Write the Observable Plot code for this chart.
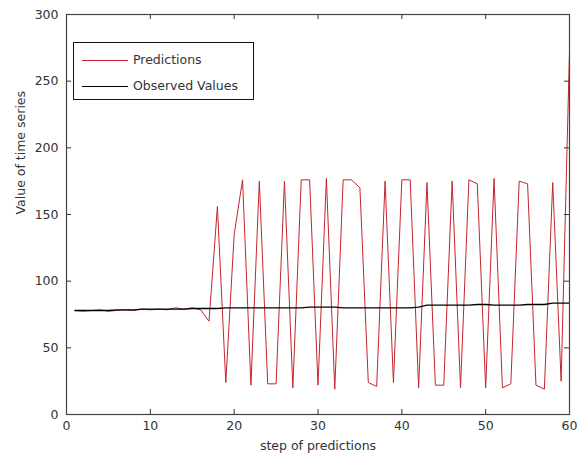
<!DOCTYPE html>
<html>
<head>
<meta charset="utf-8">
<script src="https://cdn.jsdelivr.net/npm/d3@7"></script>
<script src="https://cdn.jsdelivr.net/npm/@observablehq/plot@0.6"></script>
<style>
  html, body { margin: 0; padding: 0; background: #fff; }
  #wrap { position: relative; width: 579px; height: 460px; }
  #legend {
    position: absolute; left: 73px; top: 42px; width: 181px; height: 58px;
    border: 1px solid #111; background: #fff; box-sizing: border-box;
    font-family: "DejaVu Sans", sans-serif; font-size: 12.5px; color: #333;
  }
  .row { position: absolute; left: 0; height: 16px; }
  .sw { position: absolute; left: 8px; width: 46px; height: 0; }
  .lab { position: absolute; left: 59px; white-space: nowrap; line-height: 16px; }
</style>
</head>
<body>
<div id="wrap"></div>
<script>
const steps = [1,2,3,4,5,6,7,8,9,10,11,12,13,14,15,16,17,18,19,20,21,22,23,24,25,26,27,28,29,30,
               31,32,33,34,35,36,37,38,39,40,41,42,43,44,45,46,47,48,49,50,51,52,53,54,55,56,57,58,59,60];
const predictions = [78,77.5,78,78.5,77.5,78,78.5,78,79,78.5,79,78.5,80,79,80,78.5,70,156,24,135,
                     176,22,175,23,23,175,20,176,176,22,177,19,176,176,170,24,21,175,24,176,
                     176,20,174,22,22,175,20,176,173,20,177,20,23,175,173,22,19,174,25,272];
const observed = [78,78,78,78,78,78.5,78.5,78.5,79,79,79,79,79,79,79.5,79.5,79.5,79.5,80,80,
                  80,80,80,80,80,80,80,80,80.5,80.5,80.5,80.5,80,80,80,80,80,80,80,80,
                  80,80.5,82,82,82,82,82,82,82.5,82.5,82,82,82,82,82.5,82.5,82.5,83.5,83.5,83.5];
const xTicks = [0,10,20,30,40,50,60];
const yTicks = [0,50,100,150,200,250,300];
const seriesNames = ["Predictions", "Observed Values"];
const seriesColors = ["#c4242a", "#000000"];

const predData = steps.map((s, i) => ({step: s, value: predictions[i]}));
const obsData = steps.map((s, i) => ({step: s, value: observed[i]}));

const W = 579, H = 460, mL = 66, mR = 10, mT = 14, mB = 46;
const fw = W - mL - mR, fh = H - mT - mB, tk = 5;

const chart = Plot.plot({
  width: W, height: H,
  marginLeft: mL, marginRight: mR, marginTop: mT, marginBottom: mB,
  style: {fontFamily: "DejaVu Sans, sans-serif", fontSize: "12.5px", color: "#333", background: "#fff"},
  x: {domain: [0, 60], label: null},
  y: {domain: [0, 300], label: null},
  marks: [
    Plot.line(predData, {x: "step", y: "value", stroke: seriesColors[0], strokeWidth: 1}),
    Plot.line(obsData, {x: "step", y: "value", stroke: seriesColors[1], strokeWidth: 1.3}),
    Plot.ruleX(xTicks, {x: d => d, insetTop: fh - tk, stroke: "#333"}),
    Plot.ruleX(xTicks, {x: d => d, insetBottom: fh - tk, stroke: "#333"}),
    Plot.ruleY(yTicks, {y: d => d, insetRight: fw - tk, stroke: "#333"}),
    Plot.ruleY(yTicks, {y: d => d, insetLeft: fw - tk, stroke: "#333"}),
    Plot.frame({stroke: "#444", strokeWidth: 1.2}),
    Plot.axisX(xTicks, {tickSize: 0, tickPadding: 7, label: null, fill: "#333"}),
    Plot.axisY(yTicks, {tickSize: 0, tickPadding: 8, label: null, fill: "#333"}),
    Plot.text(["step of predictions"], {frameAnchor: "bottom", dy: 35, fill: "#333", fontSize: 12.5}),
    Plot.text(["Value of time series"], {frameAnchor: "left", dx: -46, rotate: -90, fill: "#333", fontSize: 12.5})
  ]
});

const wrap = document.getElementById("wrap");
wrap.appendChild(chart);

const legend = document.createElement("div");
legend.id = "legend";
seriesNames.forEach((name, i) => {
  const row = document.createElement("div");
  row.className = "row";
  row.style.top = (9 + i * 26) + "px";
  row.style.width = "100%";
  const sw = document.createElement("div");
  sw.className = "sw";
  sw.style.top = "8px";
  sw.style.borderTop = "1px solid " + seriesColors[i];
  const lab = document.createElement("div");
  lab.className = "lab";
  lab.textContent = name;
  row.appendChild(sw);
  row.appendChild(lab);
  legend.appendChild(row);
});
wrap.appendChild(legend);
</script>
</body>
</html>
